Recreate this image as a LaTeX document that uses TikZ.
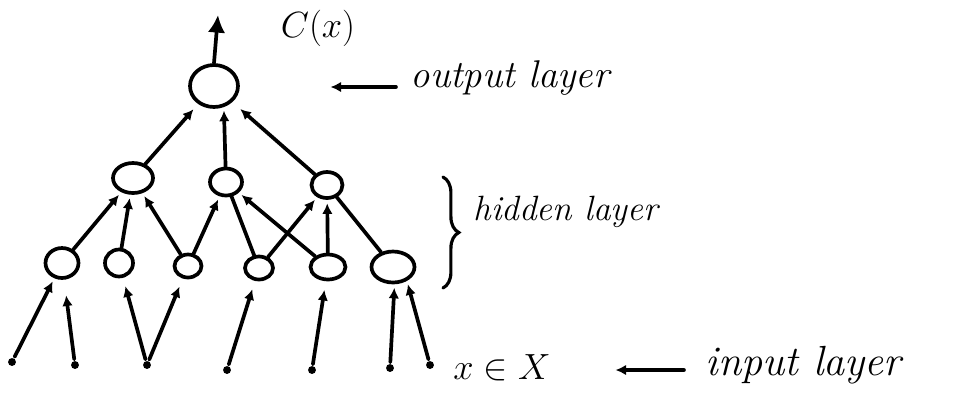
\documentclass[tikz,border=0pt]{standalone}
\usepackage{amsmath,amssymb}
\usetikzlibrary{shapes.geometric,arrows.meta,decorations.pathreplacing}

\begin{document}
\begin{tikzpicture}[x=0.02cm, y=-0.02cm, line width=2.1pt, line cap=round,
	every node/.style={font=\fontsize{20}{24}\selectfont},
	unit/.style={draw, ellipse, inner sep=0pt},
	pin/.style={circle, fill, inner sep=0pt, minimum size=4.5pt},
	feed/.style={-{Latex[length=6pt,width=6pt]}, shorten >=2pt},
	gap/.style={shorten >=5pt},
	tag/.style={anchor=west, font=\fontsize{20}{24}\selectfont\itshape}]
	\useasboundingbox (0,0) rectangle (959,397);
	% output layer
	\node[unit, minimum width=0.96cm, minimum height=0.84cm] (out) at (214,86) {};
	\coordinate (outtop) at (218,15);
	\node (cx) at (318,28) {$C(x)$};
	% hidden layer
	\node[unit, minimum width=0.80cm, minimum height=0.60cm] (h1) at (133,178) {};
	\node[unit, minimum width=0.64cm, minimum height=0.54cm] (h2) at (226,182) {};
	\node[unit, minimum width=0.62cm, minimum height=0.52cm] (h3) at (327,185) {};
	\node[unit, minimum width=0.66cm, minimum height=0.60cm] (b1) at (62,263) {};
	\node[unit, minimum width=0.56cm, minimum height=0.54cm] (b2) at (119,263) {};
	\node[unit, minimum width=0.54cm, minimum height=0.46cm] (b3) at (188,266) {};
	\node[unit, minimum width=0.56cm, minimum height=0.46cm] (b4) at (259,268) {};
	\node[unit, minimum width=0.70cm, minimum height=0.50cm] (b5) at (328,267) {};
	\node[unit, minimum width=0.86cm, minimum height=0.62cm] (b6) at (393,267) {};
	% input points
	\node[pin] (i1) at (12,362) {};
	\node[pin] (i2) at (75,365) {};
	\node[pin] (i3) at (147,365) {};
	\node[pin] (i4) at (227,370) {};
	\node[pin] (i5) at (312,370) {};
	\node[pin] (i6) at (390,368) {};
	\node[pin] (i7) at (430,365) {};

	\draw[-{Latex[length=10pt,width=10pt]}] (out.north) -- (outtop);
	\draw[feed, shorten >=4pt] (h1) -- (out);
	\draw[feed] (h2) -- (out.-65);
	\draw[feed, shorten >=6pt] (h3) -- (out);

	\draw[feed] (b1) -- (h1);
	\draw[feed] (b2) -- (h1);
	\draw[feed] (b3) -- (h1);
	\draw[feed] (b3) -- (h2);
	\draw (b4) -- (h2);
	\draw[feed] (b5) -- (h2);
	\draw[feed] (b4) -- (h3);
	\draw[feed] (b5) -- (h3);
	\draw (b6) -- (h3);

	\draw[feed] (i1) -- (b1);
	\draw[feed, shorten >=9pt] (i2) -- (b1);
	\draw[feed, gap] (i3) -- (b2);
	\draw[feed, gap] (i3) -- (b3);
	\draw[feed, gap] (i4) -- (b4);
	\draw[feed, gap] (i5) -- (b5);
	\draw[feed] (i6) -- (b6.-85);
	\draw[feed] (i7) -- (b6.-45);

	% labels
	\node[tag, font=\fontsize{22}{26}\selectfont\itshape] (outlbl) at (403,78) {output layer};
	\coordinate (outtip) at (327,87);
	\draw[feed, shorten <=4pt] (outlbl.west |- outtip) -- (outtip);
	\coordinate (brtop) at (443,177);
	\coordinate (brbot) at (443,288);
	\draw[line width=1.8pt, decorate, decoration={brace, amplitude=9pt}] (brtop) -- (brbot);
	\node[tag] (hidlbl) at (466,212) {hidden layer};
	\node (xin) at (502,368) {$x\in X$};
	\node[tag, font=\fontsize{24}{28}\selectfont\itshape] (inlbl) at (698,365) {input layer};
	\coordinate (intip) at (612,370);
	\draw[feed, shorten <=8pt] (inlbl.west |- intip) -- (intip);
\end{tikzpicture}
\end{document}
